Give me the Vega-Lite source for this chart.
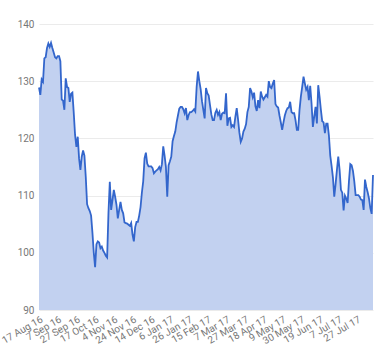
{
  "$schema": "https://vega.github.io/schema/vega-lite/v6.json",
  "width": 334,
  "height": 286,
  "autosize": {"type": "none"},
  "padding": {"left": 39, "top": 24, "right": 7, "bottom": 50},
  "background": "white",
  "config": {
    "view": {"stroke": null},
    "font": "Roboto",
    "axis": {"labelFont": "Roboto", "labelColor": "#777777", "labelFontSize": 10, "domain": false, "ticks": false, "title": null}
  },
  "data": {"values": [
    {"d":0,"v":128.9},{"d":1,"v":127.6},{"d":2,"v":130.3},{"d":3,"v":129.9},{"d":4,"v":134.0},{"d":5,"v":134.2},{"d":6,"v":135.8},{"d":7,"v":136.6},{"d":8,"v":136.0},{"d":9,"v":136.7},
    {"d":10,"v":135.8},{"d":11,"v":135.0},{"d":12,"v":134.2},{"d":13,"v":134.0},{"d":14,"v":134.4},{"d":15,"v":134.4},{"d":16,"v":133.5},{"d":17,"v":126.8},{"d":18,"v":126.6},{"d":19,"v":125.0},
    {"d":20,"v":130.5},{"d":21,"v":129.0},{"d":22,"v":128.8},{"d":23,"v":126.4},{"d":24,"v":127.8},{"d":25,"v":128.0},{"d":26,"v":124.5},{"d":27,"v":120.6},{"d":28,"v":118.5},{"d":29,"v":120.3},
    {"d":30,"v":116.5},{"d":31,"v":114.5},{"d":32,"v":116.8},{"d":33,"v":117.9},{"d":34,"v":117.0},{"d":35,"v":113.3},{"d":36,"v":108.5},{"d":37,"v":107.8},{"d":38,"v":107.3},{"d":39,"v":106.5},
    {"d":40,"v":103.5},{"d":41,"v":100.0},{"d":42,"v":97.5},{"d":43,"v":101.5},{"d":44,"v":102.0},{"d":45,"v":101.8},{"d":46,"v":100.8},{"d":47,"v":101.1},{"d":48,"v":100.4},{"d":49,"v":100.0},
    {"d":50,"v":99.5},{"d":51,"v":99.2},{"d":52,"v":107.0},{"d":53,"v":112.4},{"d":54,"v":107.5},{"d":55,"v":109.2},{"d":56,"v":111.0},{"d":57,"v":109.8},{"d":58,"v":108.4},{"d":59,"v":106.0},
    {"d":60,"v":107.5},{"d":61,"v":108.9},{"d":62,"v":107.5},{"d":63,"v":106.9},{"d":64,"v":105.3},{"d":65,"v":105.2},{"d":66,"v":105.1},{"d":67,"v":104.9},{"d":68,"v":104.7},{"d":69,"v":105.2},
    {"d":70,"v":103.2},{"d":71,"v":102.0},{"d":72,"v":104.5},{"d":73,"v":105.4},{"d":74,"v":105.4},{"d":75,"v":106.5},{"d":76,"v":108.0},{"d":77,"v":110.5},{"d":78,"v":112.5},{"d":79,"v":116.5},
    {"d":80,"v":117.5},{"d":81,"v":115.6},{"d":82,"v":115.1},{"d":83,"v":115.1},{"d":84,"v":115.1},{"d":85,"v":114.8},{"d":86,"v":113.9},{"d":87,"v":114.2},{"d":88,"v":114.4},{"d":89,"v":114.6},
    {"d":90,"v":115.0},{"d":91,"v":114.4},{"d":92,"v":115.5},{"d":93,"v":118.6},{"d":94,"v":117.0},{"d":95,"v":115.0},{"d":96,"v":109.8},{"d":97,"v":115.3},{"d":98,"v":116.0},{"d":99,"v":116.8},
    {"d":100,"v":119.5},{"d":101,"v":120.4},{"d":102,"v":121.2},{"d":103,"v":122.8},{"d":104,"v":124.0},{"d":105,"v":125.2},{"d":106,"v":125.5},{"d":107,"v":125.5},{"d":108,"v":125.1},{"d":109,"v":124.4},
    {"d":110,"v":125.3},{"d":111,"v":123.2},{"d":112,"v":124.1},{"d":113,"v":124.6},{"d":114,"v":124.6},{"d":115,"v":124.8},{"d":116,"v":125.1},{"d":117,"v":124.7},{"d":118,"v":129.0},{"d":119,"v":131.7},
    {"d":120,"v":130.0},{"d":121,"v":128.6},{"d":122,"v":126.5},{"d":123,"v":125.0},{"d":124,"v":123.5},{"d":125,"v":128.8},{"d":126,"v":127.9},{"d":127,"v":127.5},{"d":128,"v":125.8},{"d":129,"v":124.2},
    {"d":130,"v":123.2},{"d":131,"v":123.2},{"d":132,"v":124.5},{"d":133,"v":125.0},{"d":134,"v":124.1},{"d":135,"v":124.6},{"d":136,"v":123.2},{"d":137,"v":124.3},{"d":138,"v":124.5},{"d":139,"v":124.4},
    {"d":140,"v":127.9},{"d":141,"v":122.2},{"d":142,"v":123.5},{"d":143,"v":123.6},{"d":144,"v":122.0},{"d":145,"v":122.3},{"d":146,"v":122.0},{"d":147,"v":123.8},{"d":148,"v":125.3},{"d":149,"v":123.3},
    {"d":150,"v":121.0},{"d":151,"v":119.4},{"d":152,"v":120.0},{"d":153,"v":121.2},{"d":154,"v":121.7},{"d":155,"v":122.5},{"d":156,"v":124.6},{"d":157,"v":125.5},{"d":158,"v":128.8},{"d":159,"v":128.2},
    {"d":160,"v":127.2},{"d":161,"v":128.0},{"d":162,"v":125.6},{"d":163,"v":124.8},{"d":164,"v":126.7},{"d":165,"v":125.3},{"d":166,"v":128.2},{"d":167,"v":127.3},{"d":168,"v":126.8},{"d":169,"v":127.2},
    {"d":170,"v":127.6},{"d":171,"v":127.3},{"d":172,"v":130.0},{"d":173,"v":129.0},{"d":174,"v":128.8},{"d":175,"v":129.6},{"d":176,"v":130.2},{"d":177,"v":126.0},{"d":178,"v":125.6},{"d":179,"v":125.4},
    {"d":180,"v":124.0},{"d":181,"v":122.8},{"d":182,"v":121.5},{"d":183,"v":122.8},{"d":184,"v":124.0},{"d":185,"v":124.8},{"d":186,"v":125.3},{"d":187,"v":125.4},{"d":188,"v":126.4},{"d":189,"v":124.6},
    {"d":190,"v":124.4},{"d":191,"v":124.4},{"d":192,"v":123.2},{"d":193,"v":121.5},{"d":194,"v":121.5},{"d":195,"v":125.0},{"d":196,"v":127.3},{"d":197,"v":129.0},{"d":198,"v":130.8},{"d":199,"v":129.6},
    {"d":200,"v":128.5},{"d":201,"v":129.0},{"d":202,"v":126.7},{"d":203,"v":129.2},{"d":204,"v":126.1},{"d":205,"v":122.0},{"d":206,"v":123.8},{"d":207,"v":125.5},{"d":208,"v":122.6},{"d":209,"v":129.3},
    {"d":210,"v":127.3},{"d":211,"v":125.0},{"d":212,"v":123.0},{"d":213,"v":122.8},{"d":214,"v":120.9},{"d":215,"v":122.6},{"d":216,"v":122.6},{"d":217,"v":120.5},{"d":218,"v":117.0},{"d":219,"v":115.2},
    {"d":220,"v":113.2},{"d":221,"v":109.8},{"d":222,"v":112.0},{"d":223,"v":114.5},{"d":224,"v":116.8},{"d":225,"v":114.5},{"d":226,"v":111.0},{"d":227,"v":110.5},{"d":228,"v":107.4},{"d":229,"v":110.0},
    {"d":230,"v":109.5},{"d":231,"v":108.7},{"d":232,"v":112.5},{"d":233,"v":115.5},{"d":234,"v":115.3},{"d":235,"v":114.3},{"d":236,"v":112.5},{"d":237,"v":110.1},{"d":238,"v":110.1},{"d":239,"v":110.1},
    {"d":240,"v":109.8},{"d":241,"v":109.3},{"d":242,"v":109.2},{"d":243,"v":107.5},{"d":244,"v":112.8},{"d":245,"v":111.5},{"d":246,"v":110.6},{"d":247,"v":109.5},{"d":248,"v":107.8},{"d":249,"v":106.8},
    {"d":250,"v":113.6}
  ]},
  "encoding": {
    "x": {
      "field": "d", "type": "quantitative",
      "scale": {"domain": [0, 250], "nice": false, "zero": false},
      "axis": {
        "values": [0,14,28,42,56,70,84,98,112,126,140,154,168,182,196,210,224,238],
        "grid": false,
        "labelAngle": -30,
        "labelPadding": 4,
        "labelOverlap": false,
        "labelExpr": "['17 Aug 16','7 Sep 16','27 Sep 16','17 Oct 16','4 Nov 16','24 Nov 16','14 Dec 16','6 Jan 17','26 Jan 17','15 Feb 17','7 Mar 17','27 Mar 17','18 Apr 17','9 May 17','30 May 17','19 Jun 17','7 Jul 17','27 Jul 17'][round(datum.value/14)]"
      }
    },
    "y": {
      "field": "v", "type": "quantitative",
      "scale": {"domain": [90, 140], "nice": false, "zero": false},
      "axis": {"values": [90,100,110,120,130,140], "grid": true, "gridColor": "#ebebeb", "labelPadding": 5}
    }
  },
  "layer": [
    {"mark": {"type": "area", "color": "#c2d1f0", "opacity": 1}, "encoding": {"y2": {"datum": 90}}},
    {"mark": {"type": "line", "color": "#3366cc", "strokeWidth": 1.8}}
  ]
}
